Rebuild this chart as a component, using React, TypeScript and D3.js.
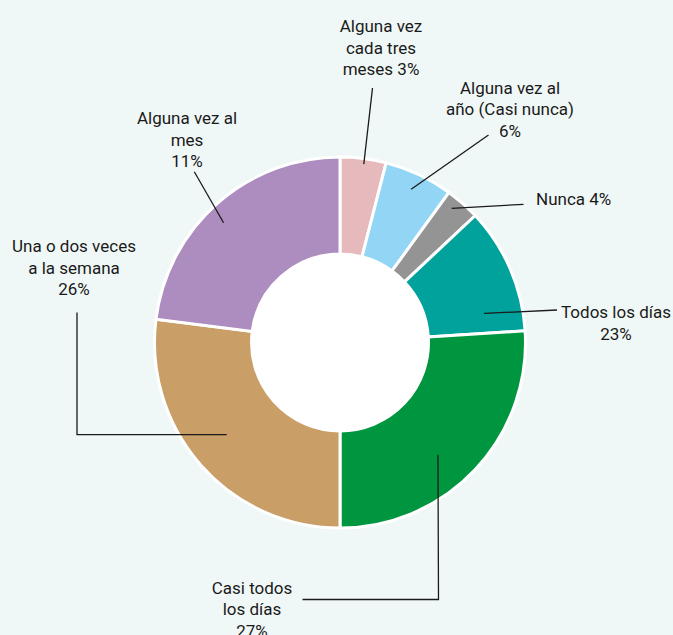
import React from "react";
import * as d3 from "d3";

const categories = [
  "Alguna vez cada tres meses",
  "Alguna vez al año (Casi nunca)",
  "Nunca",
  "Todos los días",
  "Casi todos los días",
  "Una o dos veces a la semana",
  "Alguna vez al mes",
];
const sliceValues = [4, 6, 3, 11, 26, 27, 23];
// Percentages as printed in the labels
const labelPercents = ["3%", "6%", "4%", "23%", "27%", "26%", "11%"];
const sliceColors = ["#e6b9bd", "#93d5f5", "#949494", "#00a29b", "#009640", "#c99e67", "#ad8cbf"];

// Label text lines
const labelLines = [
  ["Alguna vez", "cada tres", "meses 3%"],
  ["Alguna vez al", "año (Casi nunca)", "6%"],
  ["Nunca 4%"],
  ["Todos los días", "23%"],
  ["Casi todos", "los días", "27%"],
  ["Una o dos veces", "a la semana", "26%"],
  ["Alguna vez al", "mes", "11%"],
];

const W = 673;
const H = 635;
const cx = 340;
const cy = 342.5;
const rOuter = 185.5;
const rInner = 88.5;
const lineH = 21.5;

type Lay = { x: number; y: number; anchor: "start" | "middle" | "end"; pts: [number, number][]; tip: [number, number] };
// tip: [angle in degrees, radius] inside the slice where the leader ends
const layout: Lay[] = [
  { x: 381, y: 32, anchor: "middle", pts: [[372.5, 88]], tip: [7.6, 180] },
  { x: 510, y: 93.5, anchor: "middle", pts: [[488.5, 135]], tip: [24.9, 169] },
  { x: 536, y: 205, anchor: "start", pts: [[523.5, 204.3]], tip: [39.8, 174.5] },
  { x: 616, y: 318, anchor: "middle", pts: [[557, 310]], tip: [78.6, 147] },
  { x: 252, y: 593.5, anchor: "middle", pts: [[302.5, 599.5], [438.5, 599.5]], tip: [138.9, 149] },
  { x: 74, y: 252, anchor: "middle", pts: [[77, 312.5], [77, 434.7]], tip: [230.9, 146] },
  { x: 187, y: 124, anchor: "middle", pts: [[194.3, 171.7]], tip: [315.8, 167] },
];

const polar = (deg: number, r: number): [number, number] => {
  const a = (deg * Math.PI) / 180;
  return [cx + r * Math.sin(a), cy - r * Math.cos(a)];
};

export default function App() {
  const pie = d3.pie<number>().sort(null).value((d) => d).startAngle(0).endAngle(2 * Math.PI);
  const arcs = pie(sliceValues);
  const arc = d3.arc<d3.PieArcDatum<number>>().innerRadius(rInner).outerRadius(rOuter);
  const line = d3.line();

  return (
    <svg
      width={W}
      height={H}
      style={{ position: "absolute", left: 0, top: 0, display: "block" }}
      fontFamily="Roboto, 'Noto Sans', sans-serif"
    >
      <rect x={0} y={0} width={W} height={H} fill="#f0f8f7" />
      <circle cx={cx} cy={cy} r={rInner} fill="#ffffff" />
      <g transform={`translate(${cx},${cy})`}>
        {arcs.map((a, i) => (
          <path key={categories[i]} d={arc(a) || ""} fill={sliceColors[i]} stroke="#ffffff" strokeWidth={3} strokeLinejoin="miter" />
        ))}
      </g>
      {layout.map((l, i) => {
        const tip = polar(l.tip[0], l.tip[1]);
        const pts: [number, number][] = [...l.pts, tip];
        return <path key={"ld" + i} d={line(pts) || ""} fill="none" stroke="#1a1a1a" strokeWidth={1.3} />;
      })}
      {labelLines.map((lines, i) => (
        <text key={"lb" + i} x={layout[i].x} y={layout[i].y} textAnchor={layout[i].anchor} fontSize={17} fill="#1a1a1a">
          {lines.map((t, j) => (
            <tspan key={j} x={layout[i].x} y={layout[i].y + j * lineH}>
              {t}
            </tspan>
          ))}
        </text>
      ))}
    </svg>
  );
}
